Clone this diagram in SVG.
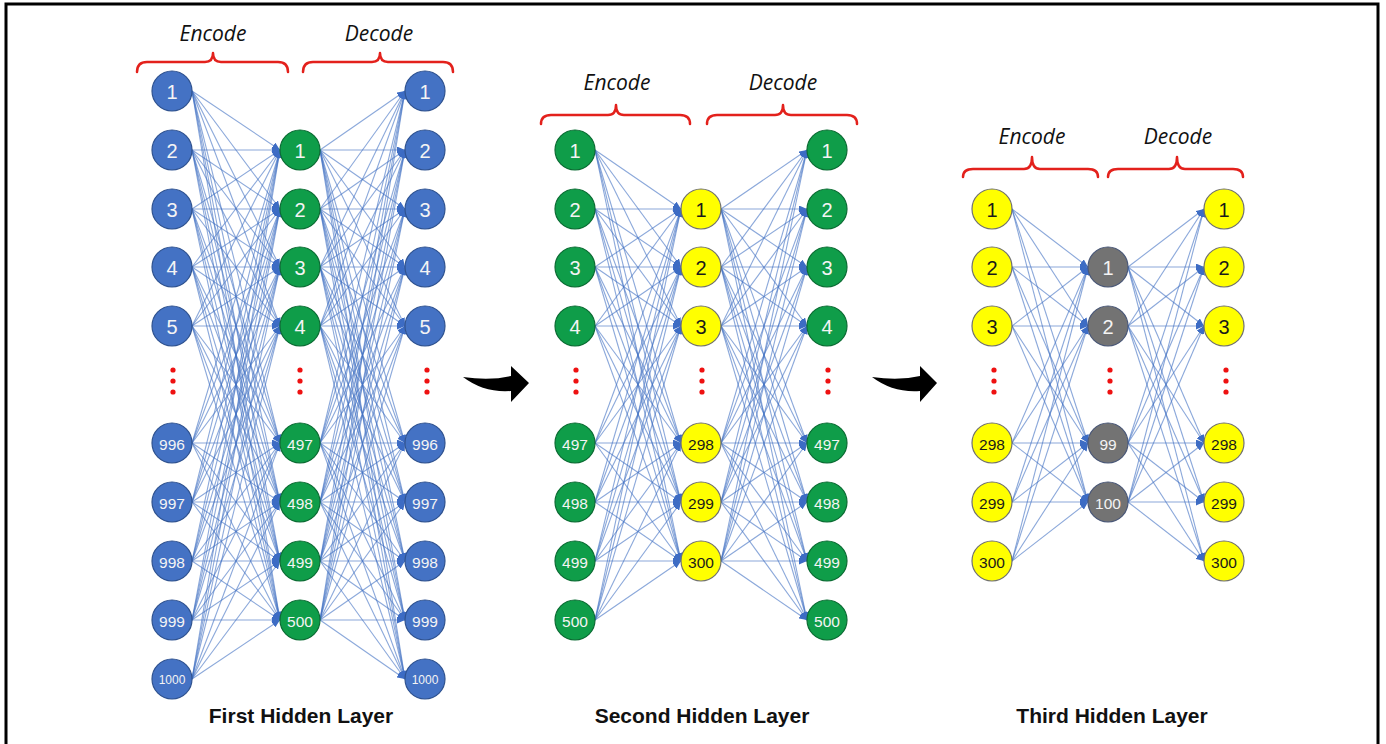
<svg xmlns="http://www.w3.org/2000/svg" width="1386" height="744" viewBox="0 0 1386 744">
<defs>
<style>
.b{fill:#4472c4;stroke:#2f528f;stroke-width:1.2}
.g{fill:#0f9d49;stroke:#0b6b33;stroke-width:1.2}
.y{fill:#ffff00;stroke:#707070;stroke-width:1.2}
.k{fill:#737373;stroke:#4a5878;stroke-width:1.2}
text.n{font-family:"Liberation Sans",Arial,sans-serif;text-anchor:middle;dominant-baseline:central;fill:#f4f4f4}
text.d{fill:#1a1a1a}
.s1{font-size:20px}.s3{font-size:15.5px}.s4{font-size:12px}
.c line{stroke:#4472c4;stroke-opacity:.62;stroke-width:1.1;marker-end:url(#ah)}
.brace{fill:none;stroke:#e3211c;stroke-width:2.5;stroke-linecap:round;stroke-linejoin:round}
.hd{font-family:"Open Sans","Liberation Sans",sans-serif;font-style:italic;font-size:21px;fill:#111;text-anchor:middle}
.ft{font-family:"Liberation Sans",Arial,sans-serif;font-weight:bold;font-size:21px;fill:#111;text-anchor:middle}
.dot{fill:#ee1111}
</style>
<marker id="ah" markerUnits="userSpaceOnUse" markerWidth="8" markerHeight="7" refX="8" refY="3.5" orient="auto"><path d="M0,0 L8,3.5 L0,7 Z" fill="#3d6cc4"/></marker>
</defs>
<rect x="6" y="4" width="1372" height="760" fill="#fff" stroke="#000" stroke-width="3"/>

<g id="connectors" class="c">
<!-- panel 1 encode -->
<line x1="192" y1="91" x2="280" y2="150"/><line x1="192" y1="91" x2="280" y2="209"/><line x1="192" y1="91" x2="280" y2="267"/><line x1="192" y1="91" x2="280" y2="326"/><line x1="192" y1="91" x2="280" y2="443"/><line x1="192" y1="91" x2="280" y2="502"/><line x1="192" y1="91" x2="280" y2="561"/><line x1="192" y1="91" x2="280" y2="620"/>
<line x1="192" y1="150" x2="280" y2="150"/><line x1="192" y1="150" x2="280" y2="209"/><line x1="192" y1="150" x2="280" y2="267"/><line x1="192" y1="150" x2="280" y2="326"/><line x1="192" y1="150" x2="280" y2="443"/><line x1="192" y1="150" x2="280" y2="502"/><line x1="192" y1="150" x2="280" y2="561"/><line x1="192" y1="150" x2="280" y2="620"/>
<line x1="192" y1="209" x2="280" y2="150"/><line x1="192" y1="209" x2="280" y2="209"/><line x1="192" y1="209" x2="280" y2="267"/><line x1="192" y1="209" x2="280" y2="326"/><line x1="192" y1="209" x2="280" y2="443"/><line x1="192" y1="209" x2="280" y2="502"/><line x1="192" y1="209" x2="280" y2="561"/><line x1="192" y1="209" x2="280" y2="620"/>
<line x1="192" y1="267" x2="280" y2="150"/><line x1="192" y1="267" x2="280" y2="209"/><line x1="192" y1="267" x2="280" y2="267"/><line x1="192" y1="267" x2="280" y2="326"/><line x1="192" y1="267" x2="280" y2="443"/><line x1="192" y1="267" x2="280" y2="502"/><line x1="192" y1="267" x2="280" y2="561"/><line x1="192" y1="267" x2="280" y2="620"/>
<line x1="192" y1="326" x2="280" y2="150"/><line x1="192" y1="326" x2="280" y2="209"/><line x1="192" y1="326" x2="280" y2="267"/><line x1="192" y1="326" x2="280" y2="326"/><line x1="192" y1="326" x2="280" y2="443"/><line x1="192" y1="326" x2="280" y2="502"/><line x1="192" y1="326" x2="280" y2="561"/><line x1="192" y1="326" x2="280" y2="620"/>
<line x1="192" y1="443" x2="280" y2="150"/><line x1="192" y1="443" x2="280" y2="209"/><line x1="192" y1="443" x2="280" y2="267"/><line x1="192" y1="443" x2="280" y2="326"/><line x1="192" y1="443" x2="280" y2="443"/><line x1="192" y1="443" x2="280" y2="502"/><line x1="192" y1="443" x2="280" y2="561"/><line x1="192" y1="443" x2="280" y2="620"/>
<line x1="192" y1="502" x2="280" y2="150"/><line x1="192" y1="502" x2="280" y2="209"/><line x1="192" y1="502" x2="280" y2="267"/><line x1="192" y1="502" x2="280" y2="326"/><line x1="192" y1="502" x2="280" y2="443"/><line x1="192" y1="502" x2="280" y2="502"/><line x1="192" y1="502" x2="280" y2="561"/><line x1="192" y1="502" x2="280" y2="620"/>
<line x1="192" y1="561" x2="280" y2="150"/><line x1="192" y1="561" x2="280" y2="209"/><line x1="192" y1="561" x2="280" y2="267"/><line x1="192" y1="561" x2="280" y2="326"/><line x1="192" y1="561" x2="280" y2="443"/><line x1="192" y1="561" x2="280" y2="502"/><line x1="192" y1="561" x2="280" y2="561"/><line x1="192" y1="561" x2="280" y2="620"/>
<line x1="192" y1="620" x2="280" y2="150"/><line x1="192" y1="620" x2="280" y2="209"/><line x1="192" y1="620" x2="280" y2="267"/><line x1="192" y1="620" x2="280" y2="326"/><line x1="192" y1="620" x2="280" y2="443"/><line x1="192" y1="620" x2="280" y2="502"/><line x1="192" y1="620" x2="280" y2="561"/><line x1="192" y1="620" x2="280" y2="620"/>
<line x1="192" y1="679" x2="280" y2="150"/><line x1="192" y1="679" x2="280" y2="209"/><line x1="192" y1="679" x2="280" y2="267"/><line x1="192" y1="679" x2="280" y2="326"/><line x1="192" y1="679" x2="280" y2="443"/><line x1="192" y1="679" x2="280" y2="502"/><line x1="192" y1="679" x2="280" y2="561"/><line x1="192" y1="679" x2="280" y2="620"/>
<!-- panel 1 decode -->
<line x1="320" y1="150" x2="405" y2="91"/><line x1="320" y1="150" x2="405" y2="150"/><line x1="320" y1="150" x2="405" y2="209"/><line x1="320" y1="150" x2="405" y2="267"/><line x1="320" y1="150" x2="405" y2="326"/><line x1="320" y1="150" x2="405" y2="443"/><line x1="320" y1="150" x2="405" y2="502"/><line x1="320" y1="150" x2="405" y2="561"/><line x1="320" y1="150" x2="405" y2="620"/><line x1="320" y1="150" x2="405" y2="679"/>
<line x1="320" y1="209" x2="405" y2="91"/><line x1="320" y1="209" x2="405" y2="150"/><line x1="320" y1="209" x2="405" y2="209"/><line x1="320" y1="209" x2="405" y2="267"/><line x1="320" y1="209" x2="405" y2="326"/><line x1="320" y1="209" x2="405" y2="443"/><line x1="320" y1="209" x2="405" y2="502"/><line x1="320" y1="209" x2="405" y2="561"/><line x1="320" y1="209" x2="405" y2="620"/><line x1="320" y1="209" x2="405" y2="679"/>
<line x1="320" y1="267" x2="405" y2="91"/><line x1="320" y1="267" x2="405" y2="150"/><line x1="320" y1="267" x2="405" y2="209"/><line x1="320" y1="267" x2="405" y2="267"/><line x1="320" y1="267" x2="405" y2="326"/><line x1="320" y1="267" x2="405" y2="443"/><line x1="320" y1="267" x2="405" y2="502"/><line x1="320" y1="267" x2="405" y2="561"/><line x1="320" y1="267" x2="405" y2="620"/><line x1="320" y1="267" x2="405" y2="679"/>
<line x1="320" y1="326" x2="405" y2="91"/><line x1="320" y1="326" x2="405" y2="150"/><line x1="320" y1="326" x2="405" y2="209"/><line x1="320" y1="326" x2="405" y2="267"/><line x1="320" y1="326" x2="405" y2="326"/><line x1="320" y1="326" x2="405" y2="443"/><line x1="320" y1="326" x2="405" y2="502"/><line x1="320" y1="326" x2="405" y2="561"/><line x1="320" y1="326" x2="405" y2="620"/><line x1="320" y1="326" x2="405" y2="679"/>
<line x1="320" y1="443" x2="405" y2="91"/><line x1="320" y1="443" x2="405" y2="150"/><line x1="320" y1="443" x2="405" y2="209"/><line x1="320" y1="443" x2="405" y2="267"/><line x1="320" y1="443" x2="405" y2="326"/><line x1="320" y1="443" x2="405" y2="443"/><line x1="320" y1="443" x2="405" y2="502"/><line x1="320" y1="443" x2="405" y2="561"/><line x1="320" y1="443" x2="405" y2="620"/><line x1="320" y1="443" x2="405" y2="679"/>
<line x1="320" y1="502" x2="405" y2="91"/><line x1="320" y1="502" x2="405" y2="150"/><line x1="320" y1="502" x2="405" y2="209"/><line x1="320" y1="502" x2="405" y2="267"/><line x1="320" y1="502" x2="405" y2="326"/><line x1="320" y1="502" x2="405" y2="443"/><line x1="320" y1="502" x2="405" y2="502"/><line x1="320" y1="502" x2="405" y2="561"/><line x1="320" y1="502" x2="405" y2="620"/><line x1="320" y1="502" x2="405" y2="679"/>
<line x1="320" y1="561" x2="405" y2="91"/><line x1="320" y1="561" x2="405" y2="150"/><line x1="320" y1="561" x2="405" y2="209"/><line x1="320" y1="561" x2="405" y2="267"/><line x1="320" y1="561" x2="405" y2="326"/><line x1="320" y1="561" x2="405" y2="443"/><line x1="320" y1="561" x2="405" y2="502"/><line x1="320" y1="561" x2="405" y2="561"/><line x1="320" y1="561" x2="405" y2="620"/><line x1="320" y1="561" x2="405" y2="679"/>
<line x1="320" y1="620" x2="405" y2="91"/><line x1="320" y1="620" x2="405" y2="150"/><line x1="320" y1="620" x2="405" y2="209"/><line x1="320" y1="620" x2="405" y2="267"/><line x1="320" y1="620" x2="405" y2="326"/><line x1="320" y1="620" x2="405" y2="443"/><line x1="320" y1="620" x2="405" y2="502"/><line x1="320" y1="620" x2="405" y2="561"/><line x1="320" y1="620" x2="405" y2="620"/><line x1="320" y1="620" x2="405" y2="679"/>
<!-- panel 2 encode -->
<line x1="595" y1="150" x2="681" y2="209"/><line x1="595" y1="150" x2="681" y2="267"/><line x1="595" y1="150" x2="681" y2="326"/><line x1="595" y1="150" x2="681" y2="443"/><line x1="595" y1="150" x2="681" y2="502"/><line x1="595" y1="150" x2="681" y2="561"/>
<line x1="595" y1="209" x2="681" y2="209"/><line x1="595" y1="209" x2="681" y2="267"/><line x1="595" y1="209" x2="681" y2="326"/><line x1="595" y1="209" x2="681" y2="443"/><line x1="595" y1="209" x2="681" y2="502"/><line x1="595" y1="209" x2="681" y2="561"/>
<line x1="595" y1="267" x2="681" y2="209"/><line x1="595" y1="267" x2="681" y2="267"/><line x1="595" y1="267" x2="681" y2="326"/><line x1="595" y1="267" x2="681" y2="443"/><line x1="595" y1="267" x2="681" y2="502"/><line x1="595" y1="267" x2="681" y2="561"/>
<line x1="595" y1="326" x2="681" y2="209"/><line x1="595" y1="326" x2="681" y2="267"/><line x1="595" y1="326" x2="681" y2="326"/><line x1="595" y1="326" x2="681" y2="443"/><line x1="595" y1="326" x2="681" y2="502"/><line x1="595" y1="326" x2="681" y2="561"/>
<line x1="595" y1="443" x2="681" y2="209"/><line x1="595" y1="443" x2="681" y2="267"/><line x1="595" y1="443" x2="681" y2="326"/><line x1="595" y1="443" x2="681" y2="443"/><line x1="595" y1="443" x2="681" y2="502"/><line x1="595" y1="443" x2="681" y2="561"/>
<line x1="595" y1="502" x2="681" y2="209"/><line x1="595" y1="502" x2="681" y2="267"/><line x1="595" y1="502" x2="681" y2="326"/><line x1="595" y1="502" x2="681" y2="443"/><line x1="595" y1="502" x2="681" y2="502"/><line x1="595" y1="502" x2="681" y2="561"/>
<line x1="595" y1="561" x2="681" y2="209"/><line x1="595" y1="561" x2="681" y2="267"/><line x1="595" y1="561" x2="681" y2="326"/><line x1="595" y1="561" x2="681" y2="443"/><line x1="595" y1="561" x2="681" y2="502"/><line x1="595" y1="561" x2="681" y2="561"/>
<line x1="595" y1="620" x2="681" y2="209"/><line x1="595" y1="620" x2="681" y2="267"/><line x1="595" y1="620" x2="681" y2="326"/><line x1="595" y1="620" x2="681" y2="443"/><line x1="595" y1="620" x2="681" y2="502"/><line x1="595" y1="620" x2="681" y2="561"/>
<!-- panel 2 decode -->
<line x1="721" y1="209" x2="807" y2="150"/><line x1="721" y1="209" x2="807" y2="209"/><line x1="721" y1="209" x2="807" y2="267"/><line x1="721" y1="209" x2="807" y2="326"/><line x1="721" y1="209" x2="807" y2="443"/><line x1="721" y1="209" x2="807" y2="502"/><line x1="721" y1="209" x2="807" y2="561"/><line x1="721" y1="209" x2="807" y2="620"/>
<line x1="721" y1="267" x2="807" y2="150"/><line x1="721" y1="267" x2="807" y2="209"/><line x1="721" y1="267" x2="807" y2="267"/><line x1="721" y1="267" x2="807" y2="326"/><line x1="721" y1="267" x2="807" y2="443"/><line x1="721" y1="267" x2="807" y2="502"/><line x1="721" y1="267" x2="807" y2="561"/><line x1="721" y1="267" x2="807" y2="620"/>
<line x1="721" y1="326" x2="807" y2="150"/><line x1="721" y1="326" x2="807" y2="209"/><line x1="721" y1="326" x2="807" y2="267"/><line x1="721" y1="326" x2="807" y2="326"/><line x1="721" y1="326" x2="807" y2="443"/><line x1="721" y1="326" x2="807" y2="502"/><line x1="721" y1="326" x2="807" y2="561"/><line x1="721" y1="326" x2="807" y2="620"/>
<line x1="721" y1="443" x2="807" y2="150"/><line x1="721" y1="443" x2="807" y2="209"/><line x1="721" y1="443" x2="807" y2="267"/><line x1="721" y1="443" x2="807" y2="326"/><line x1="721" y1="443" x2="807" y2="443"/><line x1="721" y1="443" x2="807" y2="502"/><line x1="721" y1="443" x2="807" y2="561"/><line x1="721" y1="443" x2="807" y2="620"/>
<line x1="721" y1="502" x2="807" y2="150"/><line x1="721" y1="502" x2="807" y2="209"/><line x1="721" y1="502" x2="807" y2="267"/><line x1="721" y1="502" x2="807" y2="326"/><line x1="721" y1="502" x2="807" y2="443"/><line x1="721" y1="502" x2="807" y2="502"/><line x1="721" y1="502" x2="807" y2="561"/><line x1="721" y1="502" x2="807" y2="620"/>
<line x1="721" y1="561" x2="807" y2="150"/><line x1="721" y1="561" x2="807" y2="209"/><line x1="721" y1="561" x2="807" y2="267"/><line x1="721" y1="561" x2="807" y2="326"/><line x1="721" y1="561" x2="807" y2="443"/><line x1="721" y1="561" x2="807" y2="502"/><line x1="721" y1="561" x2="807" y2="561"/><line x1="721" y1="561" x2="807" y2="620"/>
<!-- panel 3 encode -->
<line x1="1012" y1="209" x2="1088" y2="267"/><line x1="1012" y1="209" x2="1088" y2="326"/><line x1="1012" y1="209" x2="1088" y2="443"/><line x1="1012" y1="209" x2="1088" y2="502"/>
<line x1="1012" y1="267" x2="1088" y2="267"/><line x1="1012" y1="267" x2="1088" y2="326"/><line x1="1012" y1="267" x2="1088" y2="443"/><line x1="1012" y1="267" x2="1088" y2="502"/>
<line x1="1012" y1="326" x2="1088" y2="267"/><line x1="1012" y1="326" x2="1088" y2="326"/><line x1="1012" y1="326" x2="1088" y2="443"/><line x1="1012" y1="326" x2="1088" y2="502"/>
<line x1="1012" y1="443" x2="1088" y2="267"/><line x1="1012" y1="443" x2="1088" y2="326"/><line x1="1012" y1="443" x2="1088" y2="443"/><line x1="1012" y1="443" x2="1088" y2="502"/>
<line x1="1012" y1="502" x2="1088" y2="267"/><line x1="1012" y1="502" x2="1088" y2="326"/><line x1="1012" y1="502" x2="1088" y2="443"/><line x1="1012" y1="502" x2="1088" y2="502"/>
<line x1="1012" y1="561" x2="1088" y2="267"/><line x1="1012" y1="561" x2="1088" y2="326"/><line x1="1012" y1="561" x2="1088" y2="443"/><line x1="1012" y1="561" x2="1088" y2="502"/>
<!-- panel 3 decode -->
<line x1="1128" y1="267" x2="1204" y2="209"/><line x1="1128" y1="267" x2="1204" y2="267"/><line x1="1128" y1="267" x2="1204" y2="326"/><line x1="1128" y1="267" x2="1204" y2="443"/><line x1="1128" y1="267" x2="1204" y2="502"/><line x1="1128" y1="267" x2="1204" y2="561"/>
<line x1="1128" y1="326" x2="1204" y2="209"/><line x1="1128" y1="326" x2="1204" y2="267"/><line x1="1128" y1="326" x2="1204" y2="326"/><line x1="1128" y1="326" x2="1204" y2="443"/><line x1="1128" y1="326" x2="1204" y2="502"/><line x1="1128" y1="326" x2="1204" y2="561"/>
<line x1="1128" y1="443" x2="1204" y2="209"/><line x1="1128" y1="443" x2="1204" y2="267"/><line x1="1128" y1="443" x2="1204" y2="326"/><line x1="1128" y1="443" x2="1204" y2="443"/><line x1="1128" y1="443" x2="1204" y2="502"/><line x1="1128" y1="443" x2="1204" y2="561"/>
<line x1="1128" y1="502" x2="1204" y2="209"/><line x1="1128" y1="502" x2="1204" y2="267"/><line x1="1128" y1="502" x2="1204" y2="326"/><line x1="1128" y1="502" x2="1204" y2="443"/><line x1="1128" y1="502" x2="1204" y2="502"/><line x1="1128" y1="502" x2="1204" y2="561"/>
</g>

<g id="braces">
<path class="brace" d="M137,72 Q137,62 147,62 L205,62 Q213,62 213,53 Q213,62 221,62 L278,62 Q288,62 288,72"/>
<path class="brace" d="M303,72 Q303,62 313,62 L372,62 Q380,62 380,53 Q380,62 388,62 L443,62 Q453,62 453,72"/>
<path class="brace" d="M541,124 Q541,115 551,115 L608,115 Q616,115 616,105 Q616,115 624,115 L680,115 Q690,115 690,124"/>
<path class="brace" d="M707,124 Q707,115 717,115 L775,115 Q783,115 783,105 Q783,115 791,115 L847,115 Q857,115 857,124"/>
<path class="brace" d="M963,177 Q963,169 973,169 L1024,169 Q1032,169 1032,157 Q1032,169 1040,169 L1088,169 Q1098,169 1098,177"/>
<path class="brace" d="M1108,177 Q1108,169 1118,169 L1169,169 Q1177,169 1177,157 Q1177,169 1185,169 L1233,169 Q1243,169 1243,177"/>
</g>
<g id="headings">
<text class="hd" x="213" y="41">Encode</text>
<text class="hd" x="379" y="41">Decode</text>
<text class="hd" x="617" y="90">Encode</text>
<text class="hd" x="783" y="90">Decode</text>
<text class="hd" x="1032" y="144">Encode</text>
<text class="hd" x="1178" y="144">Decode</text>
</g>

<!-- Panel 1 input -->
<g id="p1-in-1"><circle class="b" cx="172" cy="91" r="20"/><text class="n s1" x="172" y="92">1</text></g>
<g id="p1-in-2"><circle class="b" cx="172" cy="150" r="20"/><text class="n s1" x="172" y="151">2</text></g>
<g id="p1-in-3"><circle class="b" cx="172" cy="209" r="20"/><text class="n s1" x="172" y="210">3</text></g>
<g id="p1-in-4"><circle class="b" cx="172" cy="267" r="20"/><text class="n s1" x="172" y="268">4</text></g>
<g id="p1-in-5"><circle class="b" cx="172" cy="326" r="20"/><text class="n s1" x="172" y="327">5</text></g>
<g id="p1-in-996"><circle class="b" cx="172" cy="443" r="20"/><text class="n s3" x="172" y="444">996</text></g>
<g id="p1-in-997"><circle class="b" cx="172" cy="502" r="20"/><text class="n s3" x="172" y="503">997</text></g>
<g id="p1-in-998"><circle class="b" cx="172" cy="561" r="20"/><text class="n s3" x="172" y="562">998</text></g>
<g id="p1-in-999"><circle class="b" cx="172" cy="620" r="20"/><text class="n s3" x="172" y="621">999</text></g>
<g id="p1-in-1000"><circle class="b" cx="172" cy="679" r="20"/><text class="n s4" x="172" y="680">1000</text></g>
<!-- Panel 1 hidden -->
<g id="p1-h-1"><circle class="g" cx="300" cy="150" r="20"/><text class="n s1" x="300" y="151">1</text></g>
<g id="p1-h-2"><circle class="g" cx="300" cy="209" r="20"/><text class="n s1" x="300" y="210">2</text></g>
<g id="p1-h-3"><circle class="g" cx="300" cy="267" r="20"/><text class="n s1" x="300" y="268">3</text></g>
<g id="p1-h-4"><circle class="g" cx="300" cy="326" r="20"/><text class="n s1" x="300" y="327">4</text></g>
<g id="p1-h-497"><circle class="g" cx="300" cy="443" r="20"/><text class="n s3" x="300" y="444">497</text></g>
<g id="p1-h-498"><circle class="g" cx="300" cy="502" r="20"/><text class="n s3" x="300" y="503">498</text></g>
<g id="p1-h-499"><circle class="g" cx="300" cy="561" r="20"/><text class="n s3" x="300" y="562">499</text></g>
<g id="p1-h-500"><circle class="g" cx="300" cy="620" r="20"/><text class="n s3" x="300" y="621">500</text></g>
<!-- Panel 1 output -->
<g id="p1-out-1"><circle class="b" cx="425" cy="91" r="20"/><text class="n s1" x="425" y="92">1</text></g>
<g id="p1-out-2"><circle class="b" cx="425" cy="150" r="20"/><text class="n s1" x="425" y="151">2</text></g>
<g id="p1-out-3"><circle class="b" cx="425" cy="209" r="20"/><text class="n s1" x="425" y="210">3</text></g>
<g id="p1-out-4"><circle class="b" cx="425" cy="267" r="20"/><text class="n s1" x="425" y="268">4</text></g>
<g id="p1-out-5"><circle class="b" cx="425" cy="326" r="20"/><text class="n s1" x="425" y="327">5</text></g>
<g id="p1-out-996"><circle class="b" cx="425" cy="443" r="20"/><text class="n s3" x="425" y="444">996</text></g>
<g id="p1-out-997"><circle class="b" cx="425" cy="502" r="20"/><text class="n s3" x="425" y="503">997</text></g>
<g id="p1-out-998"><circle class="b" cx="425" cy="561" r="20"/><text class="n s3" x="425" y="562">998</text></g>
<g id="p1-out-999"><circle class="b" cx="425" cy="620" r="20"/><text class="n s3" x="425" y="621">999</text></g>
<g id="p1-out-1000"><circle class="b" cx="425" cy="679" r="20"/><text class="n s4" x="425" y="680">1000</text></g>

<!-- Panel 2 input -->
<g id="p2-in-1"><circle class="g" cx="575" cy="150" r="20"/><text class="n s1" x="575" y="151">1</text></g>
<g id="p2-in-2"><circle class="g" cx="575" cy="209" r="20"/><text class="n s1" x="575" y="210">2</text></g>
<g id="p2-in-3"><circle class="g" cx="575" cy="267" r="20"/><text class="n s1" x="575" y="268">3</text></g>
<g id="p2-in-4"><circle class="g" cx="575" cy="326" r="20"/><text class="n s1" x="575" y="327">4</text></g>
<g id="p2-in-497"><circle class="g" cx="575" cy="443" r="20"/><text class="n s3" x="575" y="444">497</text></g>
<g id="p2-in-498"><circle class="g" cx="575" cy="502" r="20"/><text class="n s3" x="575" y="503">498</text></g>
<g id="p2-in-499"><circle class="g" cx="575" cy="561" r="20"/><text class="n s3" x="575" y="562">499</text></g>
<g id="p2-in-500"><circle class="g" cx="575" cy="620" r="20"/><text class="n s3" x="575" y="621">500</text></g>
<!-- Panel 2 hidden -->
<g id="p2-h-1"><circle class="y" cx="701" cy="209" r="20"/><text class="n d s1" x="701" y="210">1</text></g>
<g id="p2-h-2"><circle class="y" cx="701" cy="267" r="20"/><text class="n d s1" x="701" y="268">2</text></g>
<g id="p2-h-3"><circle class="y" cx="701" cy="326" r="20"/><text class="n d s1" x="701" y="327">3</text></g>
<g id="p2-h-298"><circle class="y" cx="701" cy="443" r="20"/><text class="n d s3" x="701" y="444">298</text></g>
<g id="p2-h-299"><circle class="y" cx="701" cy="502" r="20"/><text class="n d s3" x="701" y="503">299</text></g>
<g id="p2-h-300"><circle class="y" cx="701" cy="561" r="20"/><text class="n d s3" x="701" y="562">300</text></g>
<!-- Panel 2 output -->
<g id="p2-out-1"><circle class="g" cx="827" cy="150" r="20"/><text class="n s1" x="827" y="151">1</text></g>
<g id="p2-out-2"><circle class="g" cx="827" cy="209" r="20"/><text class="n s1" x="827" y="210">2</text></g>
<g id="p2-out-3"><circle class="g" cx="827" cy="267" r="20"/><text class="n s1" x="827" y="268">3</text></g>
<g id="p2-out-4"><circle class="g" cx="827" cy="326" r="20"/><text class="n s1" x="827" y="327">4</text></g>
<g id="p2-out-497"><circle class="g" cx="827" cy="443" r="20"/><text class="n s3" x="827" y="444">497</text></g>
<g id="p2-out-498"><circle class="g" cx="827" cy="502" r="20"/><text class="n s3" x="827" y="503">498</text></g>
<g id="p2-out-499"><circle class="g" cx="827" cy="561" r="20"/><text class="n s3" x="827" y="562">499</text></g>
<g id="p2-out-500"><circle class="g" cx="827" cy="620" r="20"/><text class="n s3" x="827" y="621">500</text></g>

<!-- Panel 3 input -->
<g id="p3-in-1"><circle class="y" cx="992" cy="209" r="20"/><text class="n d s1" x="992" y="210">1</text></g>
<g id="p3-in-2"><circle class="y" cx="992" cy="267" r="20"/><text class="n d s1" x="992" y="268">2</text></g>
<g id="p3-in-3"><circle class="y" cx="992" cy="326" r="20"/><text class="n d s1" x="992" y="327">3</text></g>
<g id="p3-in-298"><circle class="y" cx="992" cy="443" r="20"/><text class="n d s3" x="992" y="444">298</text></g>
<g id="p3-in-299"><circle class="y" cx="992" cy="502" r="20"/><text class="n d s3" x="992" y="503">299</text></g>
<g id="p3-in-300"><circle class="y" cx="992" cy="561" r="20"/><text class="n d s3" x="992" y="562">300</text></g>
<!-- Panel 3 hidden -->
<g id="p3-h-1"><circle class="k" cx="1108" cy="267" r="20"/><text class="n s1" x="1108" y="268">1</text></g>
<g id="p3-h-2"><circle class="k" cx="1108" cy="326" r="20"/><text class="n s1" x="1108" y="327">2</text></g>
<g id="p3-h-99"><circle class="k" cx="1108" cy="443" r="20"/><text class="n s3" x="1108" y="444">99</text></g>
<g id="p3-h-100"><circle class="k" cx="1108" cy="502" r="20"/><text class="n s3" x="1108" y="503">100</text></g>
<!-- Panel 3 output -->
<g id="p3-out-1"><circle class="y" cx="1224" cy="209" r="20"/><text class="n d s1" x="1224" y="210">1</text></g>
<g id="p3-out-2"><circle class="y" cx="1224" cy="267" r="20"/><text class="n d s1" x="1224" y="268">2</text></g>
<g id="p3-out-3"><circle class="y" cx="1224" cy="326" r="20"/><text class="n d s1" x="1224" y="327">3</text></g>
<g id="p3-out-298"><circle class="y" cx="1224" cy="443" r="20"/><text class="n d s3" x="1224" y="444">298</text></g>
<g id="p3-out-299"><circle class="y" cx="1224" cy="502" r="20"/><text class="n d s3" x="1224" y="503">299</text></g>
<g id="p3-out-300"><circle class="y" cx="1224" cy="561" r="20"/><text class="n d s3" x="1224" y="562">300</text></g>

<g id="ellipses">
<circle class="dot" cx="173" cy="370" r="2.6"/><circle class="dot" cx="173" cy="381" r="2.6"/><circle class="dot" cx="173" cy="392" r="2.6"/>
<circle class="dot" cx="300" cy="370" r="2.6"/><circle class="dot" cx="300" cy="381" r="2.6"/><circle class="dot" cx="300" cy="392" r="2.6"/>
<circle class="dot" cx="427" cy="370" r="2.6"/><circle class="dot" cx="427" cy="381" r="2.6"/><circle class="dot" cx="427" cy="392" r="2.6"/>
<circle class="dot" cx="576" cy="370" r="2.6"/><circle class="dot" cx="576" cy="381" r="2.6"/><circle class="dot" cx="576" cy="392" r="2.6"/>
<circle class="dot" cx="702" cy="370" r="2.6"/><circle class="dot" cx="702" cy="381" r="2.6"/><circle class="dot" cx="702" cy="392" r="2.6"/>
<circle class="dot" cx="828" cy="370" r="2.6"/><circle class="dot" cx="828" cy="381" r="2.6"/><circle class="dot" cx="828" cy="392" r="2.6"/>
<circle class="dot" cx="994" cy="370" r="2.6"/><circle class="dot" cx="994" cy="381" r="2.6"/><circle class="dot" cx="994" cy="392" r="2.6"/>
<circle class="dot" cx="1110" cy="370" r="2.6"/><circle class="dot" cx="1110" cy="381" r="2.6"/><circle class="dot" cx="1110" cy="392" r="2.6"/>
<circle class="dot" cx="1226" cy="370" r="2.6"/><circle class="dot" cx="1226" cy="381" r="2.6"/><circle class="dot" cx="1226" cy="392" r="2.6"/>
</g>

<g id="step-arrow-1"><path d="M463,377 Q490,381 511,376 L511,366 L529,383 L511,402 L511,391 Q484,393 463,377 Z" fill="#000"/></g>
<g id="step-arrow-2"><path d="M872,377 Q899,381 920,376 L920,366 L937,383 L920,402 L920,391 Q893,393 872,377 Z" fill="#000"/></g>

<g id="captions">
<text class="ft" x="301" y="723">First Hidden Layer</text>
<text class="ft" x="702" y="723">Second Hidden Layer</text>
<text class="ft" x="1112" y="723">Third Hidden Layer</text>
</g>
</svg>
